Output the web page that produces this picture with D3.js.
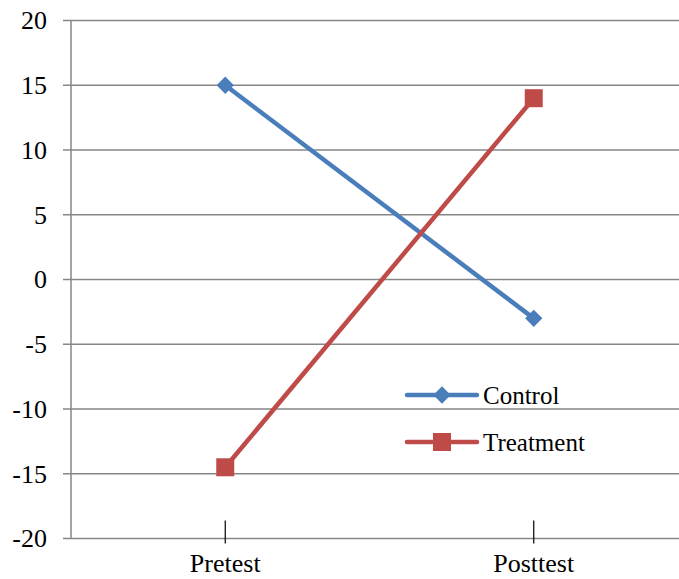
<!DOCTYPE html>
<html>
<head>
<meta charset="utf-8">
<script src="https://cdn.jsdelivr.net/npm/d3@7"></script>
<style>
  body { margin: 0; background: #fff; }
</style>
</head>
<body>
<div id="chart"></div>
<script>
// Chart data
const categories = ["Pretest", "Posttest"];
const control = [15, -3];
const treatment = [-14.5, 14];
const yTicks = [-20, -15, -10, -5, 0, 5, 10, 15, 20];

const width = 679, height = 579;
const margin = { top: 20.5, bottom: 40.5, left: 71, right: -9 };
const fontFamily = "'Liberation Serif', 'Times New Roman', Tinos, 'DejaVu Serif', serif";

const svg = d3.select("#chart")
    .append("svg")
    .attr("width", width)
    .attr("height", height)
    .attr("font-family", fontFamily);

// Scales
const xScale = d3.scalePoint()
    .domain(categories)
    .range([margin.left, width - margin.right])
    .padding(0.5);

const yScale = d3.scaleLinear()
    .domain([-20, 20])
    .range([height - margin.bottom, margin.top]);

const gridColor = "#868686";

// Horizontal gridlines
svg.append("g")
    .selectAll("line")
    .data(yTicks)
    .enter()
    .append("line")
    .attr("x1", margin.left - 8)
    .attr("x2", width)
    .attr("y1", d => yScale(d))
    .attr("y2", d => yScale(d))
    .attr("stroke", gridColor)
    .attr("stroke-width", 1.5);

// Y axis line
svg.append("line")
    .attr("x1", margin.left)
    .attr("x2", margin.left)
    .attr("y1", yScale(20))
    .attr("y2", yScale(-20))
    .attr("stroke", gridColor)
    .attr("stroke-width", 1.5);

// Y tick labels
svg.append("g")
    .selectAll("text")
    .data(yTicks)
    .enter()
    .append("text")
    .attr("x", 47)
    .attr("y", d => yScale(d))
    .attr("dy", "0.34em")
    .attr("text-anchor", "end")
    .attr("font-family", fontFamily)
    .style("font-size", "26px")
    .text(d => d);

// Category tick marks and labels
const xg = svg.append("g");
xg.selectAll("line")
    .data(categories)
    .enter()
    .append("line")
    .attr("x1", d => xScale(d))
    .attr("x2", d => xScale(d))
    .attr("y1", yScale(-20) - 18)
    .attr("y2", yScale(-20) + 5)
    .attr("stroke", "#000")
    .attr("stroke-width", 1.2);

xg.selectAll("text")
    .data(categories)
    .enter()
    .append("text")
    .attr("x", d => xScale(d))
    .attr("y", 572)
    .attr("text-anchor", "middle")
    .attr("font-family", fontFamily)
    .style("font-size", "26px")
    .text(d => d);

const series = [
    { name: "Control", values: control, color: "#4a7ebb", marker: "diamond" },
    { name: "Treatment", values: treatment, color: "#be4b48", marker: "square" }
];

const line = d3.line()
    .x((d, i) => xScale(categories[i]))
    .y(d => yScale(d));

function drawMarker(g, type, x, y, color) {
    if (type === "diamond") {
        g.append("path")
            .attr("d", d3.symbol().type(d3.symbolDiamond2).size(190)())
            .attr("transform", `translate(${x},${y})`)
            .attr("fill", color);
    } else {
        g.append("rect")
            .attr("x", x - 9)
            .attr("y", y - 9)
            .attr("width", 18)
            .attr("height", 18)
            .attr("fill", color);
    }
}

series.forEach(s => {
    const g = svg.append("g");
    g.append("path")
        .datum(s.values)
        .attr("d", line)
        .attr("fill", "none")
        .attr("stroke", s.color)
        .attr("stroke-width", 4.5);
    s.values.forEach((v, i) => drawMarker(g, s.marker, xScale(categories[i]), yScale(v), s.color));
});

// Legend
const legend = svg.append("g");
series.forEach((s, i) => {
    const y = 395 + i * 47;
    legend.append("line")
        .attr("x1", 407)
        .attr("x2", 477)
        .attr("y1", y)
        .attr("y2", y)
        .attr("stroke", s.color)
        .attr("stroke-width", 4.5)
        .attr("stroke-linecap", "round");
    drawMarker(legend, s.marker, 442, y, s.color);
    legend.append("text")
        .attr("x", 483)
        .attr("y", y)
        .attr("dy", "0.34em")
        .attr("font-family", fontFamily)
        .style("font-size", "25px")
        .text(s.name);
});
</script>
</body>
</html>
